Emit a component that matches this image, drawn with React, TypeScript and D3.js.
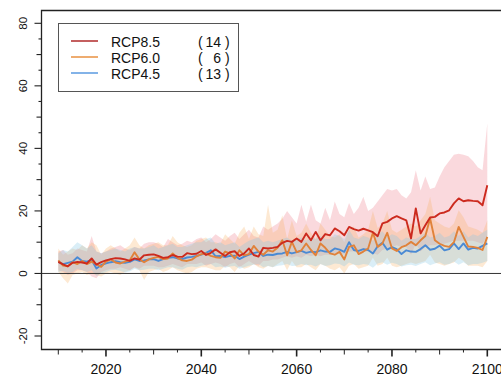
import React from "react";
import * as d3 from "d3";

const startYear = 2010;
const endYear = 2100;

const rcp85Mean = [
  3.7, 2.9, 2.3, 3.4, 3.7, 3.5, 3.2, 4.8, 2.8, 3.6,
  4.2, 4.6, 4.9, 4.8, 4.5, 4.0, 4.8, 4.4, 5.8, 6.0,
  6.1, 5.6, 5.0, 5.2, 5.9, 5.4, 5.3, 6.5, 6.2, 6.3,
  7.2, 5.9, 6.6, 7.7, 6.6, 5.6, 6.8, 7.1, 5.6, 6.4,
  8.0, 5.9, 5.4, 8.2, 8.0, 8.2, 8.5, 9.8, 10.4, 10.1,
  11.2, 10.1, 12.8, 10.6, 13.3, 10.6, 12.6, 12.2, 14.4, 13.5,
  12.2, 14.9, 14.2, 13.7, 14.3, 13.8, 13.2, 11.9, 16.0, 16.5,
  17.6, 18.3, 17.6, 17.0, 11.2, 20.8, 12.8, 15.4, 17.9, 18.1,
  19.2, 19.5, 20.2, 22.4, 24.0, 23.1, 23.4, 23.2, 23.1, 21.8,
  28.2,
];
const rcp85Hi = [
  7.0, 7.5, 6.0, 6.5, 8.0, 7.5, 7.0, 12.0, 7.0, 6.5,
  7.0, 8.0, 8.5, 9.0, 8.0, 7.5, 8.5, 8.0, 9.5, 10.0,
  10.0, 9.5, 8.5, 11.0, 10.0, 9.0, 9.5, 10.5, 10.0, 11.0,
  11.5, 10.0, 11.0, 12.5, 11.5, 10.5, 12.0, 13.0, 11.0, 12.5,
  14.0, 12.0, 11.5, 15.0, 14.0, 15.0, 16.0, 17.5, 20.0, 18.0,
  16.0, 22.0, 16.5, 22.0, 17.0, 16.0, 21.0, 17.0, 23.0, 19.0,
  18.0, 22.5, 19.0, 21.0, 24.5, 20.0, 21.0, 23.0, 25.0, 27.0,
  26.5, 27.0, 25.0, 24.0, 26.0, 33.0, 26.5, 31.0, 27.0, 27.5,
  31.0, 34.0, 36.0, 38.0, 38.3, 38.0, 37.5, 36.0, 34.0, 33.0,
  48.0,
];
const rcp85Lo = [
  1.0, 0.5, -0.5, 0.0, 1.0, 1.0, 0.5, -1.0, -1.5, 0.5,
  1.0, 1.5, 1.5, 2.0, 1.5, 1.0, 2.0, 1.5, 2.5, 2.5,
  2.5, 2.0, 2.0, 2.5, 3.0, 2.5, 2.0, 3.0, 3.0, 3.0,
  3.5, 2.5, 3.0, 3.5, 3.0, 2.0, 3.0, 3.5, 2.0, 3.0,
  4.0, 3.0, 2.5, 4.0, 4.0, 4.5, 4.5, 5.0, 5.5, 5.0,
  5.5, 5.0, 6.0, 5.5, 6.0, 5.5, 6.0, 6.0, 6.5, 6.5,
  6.0, 7.0, 7.0, 6.5, 7.0, 7.0, 6.5, 6.0, 7.5, 8.0,
  8.5, 9.0, 8.5, 8.5, 6.0, 9.5, 7.0, 8.5, 9.0, 9.0,
  9.5, 9.5, 10.0, 10.5, 10.5, 10.5, 10.5, 10.5, 10.0, 9.5,
  12.0,
];

const rcp60Mean = [
  4.2, 2.5, 2.3, 3.6, 3.0, 4.0, 3.0, 3.8, 3.0, 2.1,
  3.8, 4.5, 3.5, 3.2, 3.8, 4.2, 6.8, 4.5, 3.6, 4.5,
  5.0, 5.3, 4.6, 4.8, 6.4, 5.0, 4.2, 4.0, 4.4, 5.5,
  6.2, 6.4, 5.6, 5.2, 5.0, 7.0, 6.4, 4.8, 7.4, 5.8,
  6.2, 8.8, 7.0, 6.0, 7.4, 7.0, 8.2, 10.6, 5.8, 10.1,
  6.8, 7.4, 9.6, 7.5, 5.8, 9.6, 8.2, 6.4, 6.0, 6.9,
  4.5, 8.5, 9.0, 6.2, 7.0, 8.0, 13.0, 8.5, 9.6, 13.0,
  8.0, 7.2, 8.4, 9.0, 10.1, 9.0, 10.6, 12.0, 17.6, 10.6,
  9.5, 8.8, 8.5, 10.0, 14.9, 11.7, 8.6, 8.5, 8.2, 7.5,
  11.7,
];
const rcp60Hi = [
  8.0, 6.0, 7.0, 8.0, 7.5, 9.0, 8.0, 10.0, 9.0, 6.0,
  8.0, 9.0, 8.0, 7.0, 8.0, 9.0, 11.5, 9.0, 8.0, 9.0,
  9.5, 10.0, 9.0, 9.0, 12.0, 10.0, 9.0, 8.5, 9.0, 10.5,
  11.0, 11.5, 10.0, 10.0, 9.5, 12.5, 11.0, 9.5, 13.0, 15.0,
  11.0, 15.0, 12.5, 12.0, 22.0, 13.0, 14.0, 18.6, 11.0, 17.0,
  12.0, 13.0, 16.0, 13.0, 11.0, 16.0, 14.0, 12.0, 11.5, 12.5,
  10.0, 14.0, 15.0, 11.5, 12.5, 14.0, 20.0, 14.5, 16.0, 20.0,
  14.0, 13.0, 14.0, 15.0, 16.0, 15.0, 17.0, 19.0, 24.5, 17.0,
  16.0, 15.0, 14.5, 16.0, 20.2, 18.0, 15.0, 14.5, 14.0, 13.0,
  17.0,
];
const rcp60Lo = [
  0.5, -1.5, -3.2, -0.5, 0.0, 0.5, -0.5, 0.0, -0.5, -1.0,
  0.0, 0.5, 0.0, -0.5, 0.5, 1.0, 2.0, 1.0, -2.1, 0.5,
  1.0, 1.5, 0.5, 1.0, 2.0, 1.0, 0.5, 0.0, 0.5, 1.5,
  2.0, 2.0, 1.5, 1.0, 1.0, 2.5, 2.0, 0.5, 2.5, 1.5,
  2.0, 3.0, 2.0, 1.5, 2.5, 2.0, 3.0, 4.0, 1.0, 4.0,
  2.0, 2.0, 3.0, 2.0, 1.0, 3.0, 2.5, 1.5, 1.0, 2.0,
  0.0, 2.5, 3.0, 1.5, 2.0, 2.5, 5.0, 2.5, 3.0, 5.0,
  2.5, 2.0, 2.5, 3.0, 3.5, 3.0, 3.5, 4.0, 6.0, 3.5,
  3.0, 2.5, 3.0, 3.5, 5.0, 4.0, 2.5, 2.5, 2.5, 2.0,
  4.0,
];

const rcp45Mean = [
  3.7, 3.0, 3.4, 3.8, 5.2, 4.0, 3.8, 4.3, 1.6, 2.7,
  3.2, 3.6, 3.9, 3.6, 3.4, 3.7, 4.5, 4.0, 4.2, 4.5,
  4.6, 4.0, 4.6, 5.0, 5.2, 4.8, 4.6, 5.1, 5.3, 5.6,
  6.0, 6.6, 7.4, 5.5, 5.6, 5.2, 5.6, 5.7, 4.6, 5.4,
  6.0, 6.5, 6.9, 5.6, 6.0, 5.9, 6.3, 6.4, 6.9, 6.4,
  6.8, 7.2, 6.6, 7.0, 6.8, 7.4, 7.0, 6.9, 8.0, 7.6,
  6.9, 10.0, 7.5, 7.2, 7.8, 7.5, 6.4, 8.7, 9.8, 7.6,
  8.4, 7.8, 6.2, 7.4, 7.0, 6.9, 7.8, 9.0, 7.6, 7.9,
  8.9, 7.4, 7.8, 9.6, 7.8, 9.6, 7.6, 8.2, 8.0, 8.8,
  9.6,
];
const rcp45Hi = [
  6.5, 7.5, 7.0, 8.5, 10.0, 9.0, 8.0, 9.0, 7.0, 6.5,
  7.0, 7.5, 8.0, 7.5, 7.0, 8.0, 8.5, 8.0, 8.0, 8.5,
  9.0, 8.0, 8.5, 9.0, 9.5, 8.5, 8.5, 9.0, 9.5, 10.0,
  10.0, 11.0, 11.5, 9.5, 10.0, 9.0, 9.5, 10.0, 8.5, 9.5,
  10.5, 11.0, 11.5, 10.0, 10.5, 10.0, 10.5, 11.0, 11.5, 10.5,
  11.0, 11.5, 10.5, 11.5, 11.0, 12.0, 11.0, 11.0, 12.5, 12.0,
  11.0, 14.0, 11.5, 11.0, 12.0, 11.5, 10.5, 12.5, 13.5, 11.5,
  12.5, 12.0, 10.5, 11.5, 11.0, 11.0, 12.0, 13.0, 11.5, 12.0,
  13.0, 11.5, 12.0, 13.5, 12.0, 13.5, 11.5, 12.5, 12.0, 13.0,
  14.0,
];
const rcp45Lo = [
  0.5, 0.8, 0.2, 0.5, 1.5, 1.0, 0.5, 1.0, -0.8, 0.0,
  0.5, 1.0, 1.2, 0.8, 0.3, 0.6, 1.5, 1.0, 1.2, 1.5,
  1.5, 1.0, 1.5, 2.0, 2.0, 1.5, 1.2, 2.0, 2.2, 2.0,
  2.5, 2.8, 3.0, 2.0, 2.2, 1.8, 2.2, 2.4, 1.5, 2.0,
  2.5, 2.8, 3.0, 2.0, 2.4, 2.0, 2.5, 2.6, 3.0, 2.4,
  2.5, 3.0, 2.6, 2.8, 2.2, 3.0, 2.4, 2.6, 3.2, 3.0,
  2.2, 3.5, 2.8, 2.6, 3.0, 2.8, 1.8, 3.2, 3.6, 2.8,
  3.4, 3.0, 2.2, 2.6, 2.8, 2.4, 3.0, 3.6, 2.6, 3.2,
  3.6, 2.8, 3.0, 3.8, 2.8, 3.6, 2.6, 3.0, 3.0, 3.4,
  4.0,
];

const legendLabels = ["RCP8.5", "RCP6.0", "RCP4.5"];
const legendCounts = ["14", "6", "13"];
const yTickLabels = [-20, 0, 20, 40, 60, 80];
const xTickLabels = [2020, 2040, 2060, 2080, 2100];

const years = d3.range(startYear, endYear + 1);

const W = 501;
const H = 376;
const left = 41;
const top = 10;
const bottom = 349.5;
const right = 506;

const x = d3.scaleLinear().domain([2010, 2100]).range([58.3, 487.3]);
const y = d3.scaleLinear().domain([-20, 80]).range([336, 23.3]);

type Pt = { yr: number; m: number; lo: number; hi: number };
const mk = (m: number[], lo: number[], hi: number[]): Pt[] =>
  years.map((yr, i) => ({ yr, m: m[i], lo: lo[i], hi: hi[i] }));

const series = [
  { name: "RCP8.5", data: mk(rcp85Mean, rcp85Lo, rcp85Hi), line: "#cc2a1e", band: "#f08090", bandOp: 0.3, legend: "#b02a2a" },
  { name: "RCP6.0", data: mk(rcp60Mean, rcp60Lo, rcp60Hi), line: "#e0823a", band: "#f9b060", bandOp: 0.28, legend: "#e89040" },
  { name: "RCP4.5", data: mk(rcp45Mean, rcp45Lo, rcp45Hi), line: "#4a8ad4", band: "#86c6e6", bandOp: 0.3, legend: "#5a9ae0" },
];

const area = d3
  .area<Pt>()
  .x((d) => x(d.yr))
  .y0((d) => y(d.lo))
  .y1((d) => y(d.hi));
const line = d3
  .line<Pt>()
  .x((d) => x(d.yr))
  .y((d) => y(d.m));

export default function App() {
  const yTicks = d3.range(-20, 81, 5);
  const xTicks = d3.range(2010, 2101, 5);
  const font = "'Liberation Sans', Arial, Helvetica, sans-serif";
  return (
    <svg
      width={W}
      height={H}
      style={{ position: "absolute", left: 0, top: 0, background: "#fff" }}
      fontFamily={font}
    >
      <defs>
        <clipPath id="plot">
          <rect x={left} y={top} width={right - left} height={bottom - top} />
        </clipPath>
      </defs>
      <g clipPath="url(#plot)">
        {series.map((s) => (
          <path key={s.name + "b"} d={area(s.data) || ""} fill={s.band} fillOpacity={s.bandOp} />
        ))}
        <line x1={left} x2={right} y1={y(0)} y2={y(0)} stroke="#333" strokeWidth={1} />
        {[...series].reverse().map((s) => (
          <path key={s.name + "l"} d={line(s.data) || ""} fill="none" stroke={s.line} strokeWidth={1.9} strokeLinejoin="round" />
        ))}
      </g>
      <path
        d={`M${right},${top + 0.5}H${left + 0.5}V${bottom}H${right}`}
        fill="none"
        stroke="#222"
        strokeWidth={1.3}
      />
      {yTicks.map((v) => {
        const len = v % 20 === 0 ? 7 : v % 10 === 0 ? 5 : 3;
        return (
          <line key={"yt" + v} x1={left + 0.5 - len} x2={left + 0.5} y1={y(v)} y2={y(v)} stroke="#222" strokeWidth={1.1} />
        );
      })}
      {yTickLabels.map((v) => (
        <text
          key={"yl" + v}
          transform={`translate(27,${y(v)}) rotate(-90)`}
          textAnchor="middle"
          fontSize={11.5}
          fill="#111"
        >
          {v}
        </text>
      ))}
      {xTicks.map((v) => {
        const len = v % 20 === 0 ? 7 : v % 10 === 0 ? 5 : 3;
        return (
          <line key={"xt" + v} x1={x(v)} x2={x(v)} y1={bottom} y2={bottom + len} stroke="#222" strokeWidth={v % 20 === 0 ? 1.6 : 1} />
        );
      })}
      {xTickLabels.map((v) => (
        <text key={"xl" + v} x={x(v)} y={373.5} textAnchor="middle" fontSize={14} fill="#111">
          {v}
        </text>
      ))}
      <rect x={58.5} y={23.5} width={180} height={68} fill="#fff" stroke="#555" strokeWidth={1} />
      {series.map((s, i) => {
        const ly = 41 + i * 16;
        return (
          <g key={s.name + "lg"}>
            <line x1={71} x2={98} y1={ly} y2={ly} stroke={s.legend} strokeWidth={1.5} />
            <text x={111} y={ly + 5.5} fontSize={14} fill="#111">
              {legendLabels[i]}
            </text>
            <text x={198} y={ly + 5.5} fontSize={14} fill="#111">
              (
            </text>
            <text x={221} y={ly + 5.5} fontSize={14} fill="#111" textAnchor="end">
              {legendCounts[i]}
            </text>
            <text x={225} y={ly + 5.5} fontSize={14} fill="#111">
              )
            </text>
          </g>
        );
      })}
    </svg>
  );
}
